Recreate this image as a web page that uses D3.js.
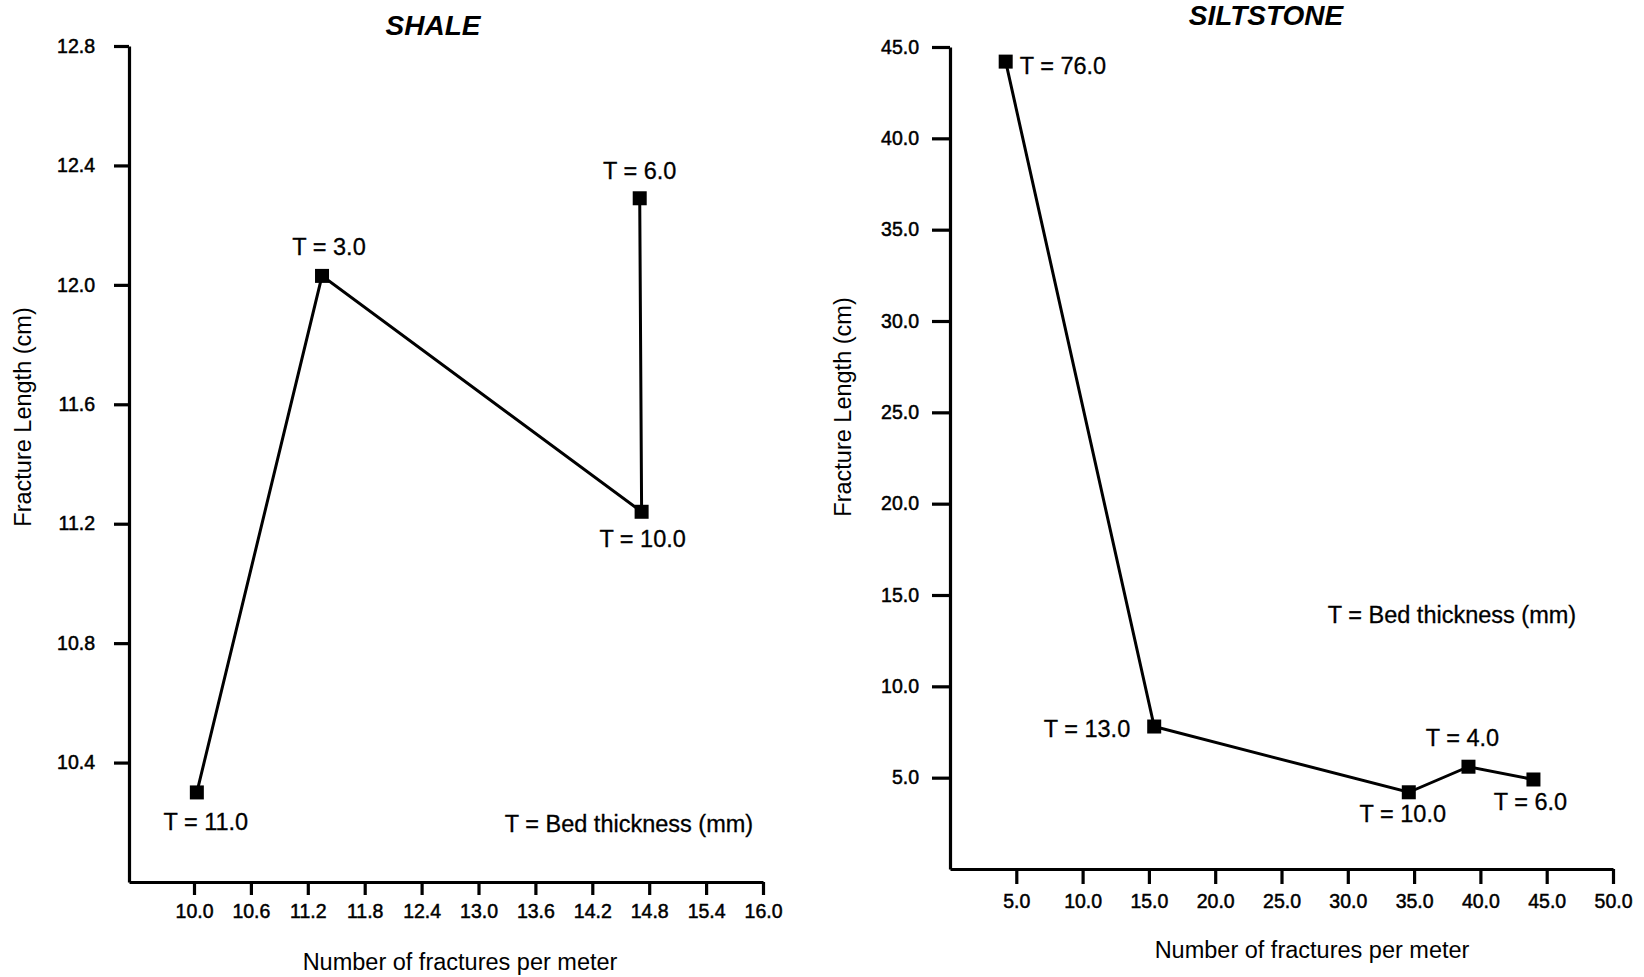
<!DOCTYPE html>
<html>
<head>
<meta charset="utf-8">
<script src="https://cdn.jsdelivr.net/npm/d3@7"></script>
<style>
  html, body { margin: 0; padding: 0; background: #fff; }
  svg text { font-family: "Liberation Sans", Arial, Helvetica, sans-serif; fill: #000; }
</style>
</head>
<body>
<svg id="chart" width="1644" height="977"></svg>
<script>
// shale panel
var shaleX = [10.03, 11.35, 14.72, 14.70]
var shaleY = [10.30, 12.03, 11.24, 12.29]
var shaleLabels = ["T = 11.0", "T = 3.0", "T = 10.0", "T = 6.0"]
var shaleXTicks = [10.0, 10.6, 11.2, 11.8, 12.4, 13.0, 13.6, 14.2, 14.8, 15.4, 16.0]
var shaleYTicks = [10.4, 10.8, 11.2, 11.6, 12.0, 12.4, 12.8]

// siltstone panel
var siltX = [4.2, 15.4, 34.6, 39.1, 44.0]
var siltY = [44.2, 7.8, 4.2, 5.6, 4.9]
var siltLabels = ["T = 76.0", "T = 13.0", "T = 10.0", "T = 4.0", "T = 6.0"]
var siltXTicks = [5, 10, 15, 20, 25, 30, 35, 40, 45, 50]
var siltYTicks = [5, 10, 15, 20, 25, 30, 35, 40, 45]

// label placement (offset from the point, in px)
var shaleLabelPos = [[9, 38, "middle"], [7, -21, "middle"], [1, 35, "middle"], [0, -19, "middle"]]
var siltLabelPos = [[14, 12, "start"], [-24, 10, "end"], [-6, 30, "middle"], [-6, -21, "middle"], [-3, 31, "middle"]]

const svg = d3.select("#chart")
svg.append("rect").attr("width", 1644).attr("height", 977).attr("fill", "#fff")

const fmt = d3.format(".1f")

function drawPanel(cfg){
    const g = svg.append("g")

    const x = d3.scaleLinear().domain(cfg.xDomain).range(cfg.xRange)
    const y = d3.scaleLinear().domain(cfg.yDomain).range(cfg.yRange)

    const xAxis = g.append("g")
        .attr("transform", "translate(0," + cfg.yRange[0] + ")")
        .call(d3.axisBottom(x).tickValues(cfg.xTicks).tickFormat(fmt)
            .tickSize(cfg.xTickSize).tickSizeOuter(0).tickPadding(cfg.xPad))
    const yAxis = g.append("g")
        .attr("transform", "translate(" + cfg.xRange[0] + ",0)")
        .call(d3.axisLeft(y).tickValues(cfg.yTicks).tickFormat(fmt)
            .tickSize(cfg.yTickSize).tickSizeOuter(0).tickPadding(cfg.yPad))

    ;[xAxis, yAxis].forEach(a => {
        a.select(".domain").attr("stroke", "#000").attr("stroke-width", 3.2)
        a.selectAll(".tick line").attr("stroke", "#000").attr("stroke-width", 3.2)
        a.selectAll(".tick text").attr("font-size", 19.5).attr("fill", "#000")
            .attr("stroke", "#000").attr("stroke-width", 0.5)
            .style("font-family", '"Liberation Sans", Arial, sans-serif')
    })

    const pts = cfg.xs.map((v, i) => ({x: v, y: cfg.ys[i], label: cfg.labels[i], pos: cfg.labelPos[i]}))

    const line = d3.line().x(d => x(d.x)).y(d => y(d.y))
    g.append("path")
        .datum(pts)
        .attr("d", line)
        .attr("fill", "none")
        .attr("stroke", "#000")
        .attr("stroke-width", 3)

    const s = 14
    g.selectAll("rect.mark")
        .data(pts)
        .enter()
        .append("rect")
        .attr("class", "mark")
        .attr("x", d => x(d.x) - s/2)
        .attr("y", d => y(d.y) - s/2)
        .attr("width", s)
        .attr("height", s)
        .attr("fill", "#000")

    g.selectAll("text.lab")
        .data(pts)
        .enter()
        .append("text")
        .attr("class", "lab")
        .attr("x", d => x(d.x) + d.pos[0])
        .attr("y", d => y(d.y) + d.pos[1])
        .attr("text-anchor", d => d.pos[2])
        .attr("font-size", 23.5)
        .attr("stroke", "#000").attr("stroke-width", 0.3)
        .text(d => d.label)

    // title
    g.append("text")
        .attr("x", cfg.title[1]).attr("y", cfg.title[2])
        .attr("text-anchor", "middle")
        .attr("font-size", 28).attr("font-weight", "bold").attr("font-style", "italic")
        .text(cfg.title[0])

    // legend note
    g.append("text")
        .attr("x", cfg.note[0]).attr("y", cfg.note[1])
        .attr("text-anchor", "middle").attr("font-size", 23.5)
        .attr("stroke", "#000").attr("stroke-width", 0.3)
        .text("T = Bed thickness (mm)")

    // axis titles
    g.append("text")
        .attr("x", cfg.xTitle[0]).attr("y", cfg.xTitle[1])
        .attr("text-anchor", "middle").attr("font-size", 23.5)
        .text("Number of fractures per meter")
    g.append("text")
        .attr("transform", "translate(" + cfg.yTitle[0] + "," + cfg.yTitle[1] + ") rotate(-90)")
        .attr("text-anchor", "middle").attr("font-size", 23.5)
        .text("Fracture Length (cm)")
}

// shale: x axis starts at the y axis (x = 129), 10.0 sits at 194
const shaleBase = d3.scaleLinear().domain([10, 16]).range([194, 763])
drawPanel({
    xs: shaleX, ys: shaleY, labels: shaleLabels, labelPos: shaleLabelPos,
    xDomain: [shaleBase.invert(129), 16], xRange: [129, 763],
    yDomain: [10.0, 12.8], yRange: [882, 46],
    xTicks: shaleXTicks, yTicks: shaleYTicks,
    xTickSize: 13, xPad: 9, yTickSize: 15, yPad: 19,
    title: ["SHALE", 433, 35],
    note: [629, 832],
    xTitle: [460, 970],
    yTitle: [31, 417]
})

drawPanel({
    xs: siltX, ys: siltY, labels: siltLabels, labelPos: siltLabelPos,
    xDomain: [0, 50], xRange: [950, 1613],
    yDomain: [0, 45], yRange: [869, 47],
    xTicks: siltXTicks, yTicks: siltYTicks,
    xTickSize: 15, xPad: 10, yTickSize: 18, yPad: 13,
    title: ["SILTSTONE", 1266, 25],
    note: [1452, 623],
    xTitle: [1312, 958],
    yTitle: [851, 407]
})
</script>
</body>
</html>
